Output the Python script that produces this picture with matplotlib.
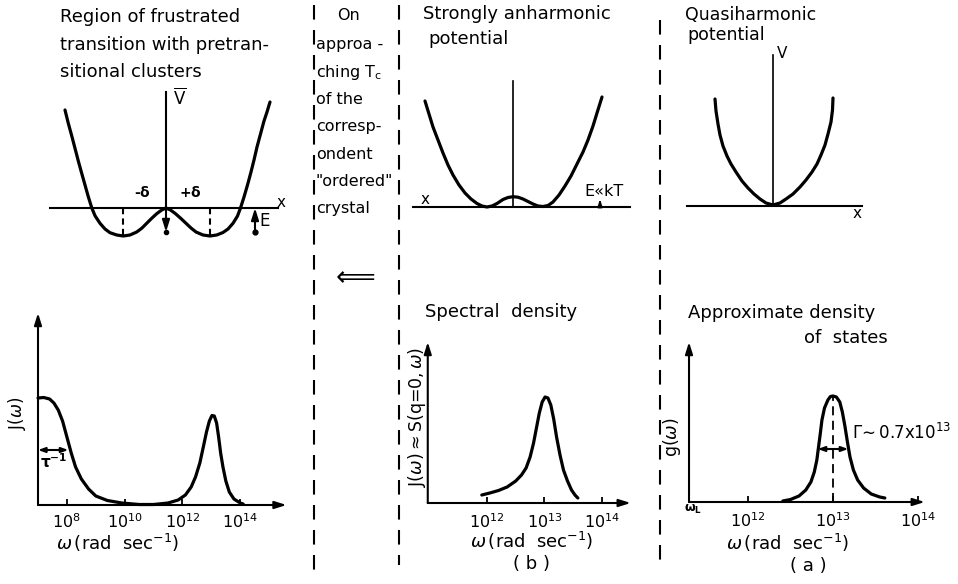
import numpy as np
import matplotlib
matplotlib.use('Agg')
import matplotlib.pyplot as plt

W, H = 958, 584

# --- potentials (x, V, px about the origin) ---
frus_x = [-101, -97.7, -94.3, -91, -87.7, -84.3, -81, -77.7, -74.3, -71, -66, -61,
          -56, -49.3, -42.7, -36, -29.3, -24.3, -19.3, -14.3, -9.3, -4.3, 0,
          4.5, 9.5, 14.7, 19.7, 25, 30, 37, 44, 50.7, 57, 62, 67, 71.5, 74.5,
          78, 81.5, 85, 88, 91, 94.5, 98, 101, 104]
frus_v = [98, 84.7, 72.3, 59.7, 47, 34.7, 23, 11.3, 0.3, -7.7, -15.3, -21,
          -24.7, -27, -28, -27, -24, -20.3, -15.3, -10.3, -5.7, -2, 0,
          -2, -5.7, -10.3, -15, -20, -24, -27, -28, -27, -24.5, -21, -15.3, -8, 0,
          11, 23, 36, 48, 61, 74, 87, 96, 106]

anh_x = [-88, -84, -80, -75, -70, -65, -60, -54, -48, -42, -36, -31, -26, -21,
         -16, -10, -5, 0, 5, 10, 15, 20, 25, 30, 35, 40, 46, 52, 58, 64, 70,
         75, 80, 84, 89]
anh_v = [106, 93, 80, 67, 54, 42, 32, 22, 14, 8, 3.5, 1, 0, 1,
         3.5, 7.5, 9.5, 10.3, 9.8, 8, 5.5, 3, 1, 0.5, 1.5, 5, 12, 21, 31, 43, 55,
         67, 81, 94, 110]

qh_x = [-58, -57, -55, -53, -50, -46, -42, -37, -31, -25, -19, -13, -7, 0,
        7, 13, 20, 27, 33, 39, 44, 48, 52, 55, 58, 59.5, 60]
qh_v = [107, 95, 82, 71, 60, 50, 42, 34, 25, 18, 12, 7, 3, 1,
        3, 7, 12, 19, 26, 34, 42, 51, 61, 72, 84, 96, 108]

# --- spectra (log10 omega, height) ---
lf_lw = [7.0, 7.2, 7.4, 7.55, 7.7, 7.85, 8.0, 8.15, 8.3, 8.5, 8.75, 9.0, 9.4,
         9.9, 10.5, 11.0, 11.5, 11.85, 12.1, 12.3, 12.45, 12.6, 12.72, 12.83,
         12.93, 13.02, 13.1, 13.18, 13.25, 13.32, 13.4, 13.5, 13.62, 13.78,
         14.0, 14.1]
lf_j = [107, 107.5, 106, 102, 95, 84, 68, 52, 38, 26, 16, 9, 4.5,
        2, 0.5, 0.5, 2, 5, 10, 18, 28, 42, 58, 73,
        84, 89.5, 89, 82, 68, 52, 38, 24, 13, 6,
        2, 1]

sd_lw = [11.91, 12.05, 12.2, 12.35, 12.5, 12.6, 12.68, 12.75, 12.81, 12.86,
         12.91, 12.96, 13.01, 13.06, 13.11, 13.16, 13.21, 13.27, 13.33, 13.4,
         13.47, 13.53, 13.58]
sd_j = [8, 10, 12.5, 16, 22, 28, 35, 46, 60, 75,
        90, 101, 106, 105, 98, 84, 66, 48, 33, 22,
        13, 8, 5]

ds_lw = [12.41, 12.5, 12.6, 12.68, 12.74, 12.78, 12.81, 12.83, 12.85, 12.87,
         12.9, 12.94, 12.97, 13.0, 13.04, 13.08, 13.11, 13.14, 13.17, 13.2,
         13.24, 13.29, 13.36, 13.45, 13.55, 13.61]
ds_g = [1, 2.5, 6, 12, 20, 30, 42, 55, 68, 82,
        94, 102, 105.5, 106, 105, 100, 90, 76, 60, 45,
        32, 22, 14, 8, 5, 4]

ticks_a = [8, 10, 12, 14]
ticks_b = [12, 13, 14]
ticks_c = [12, 13, 14]

plt.rcParams['font.family'] = 'DejaVu Sans'
plt.rcParams['mathtext.fontset'] = 'dejavusans'

fig = plt.figure(figsize=(W / 100, H / 100), dpi=100)
fig.patch.set_facecolor('white')

ax0 = fig.add_axes([0, 0, 1, 1])
ax0.set_xlim(0, W)
ax0.set_ylim(H, 0)
ax0.axis('off')


def add_panel(px0, px1, py0, py1, xlim, ylim):
    ax = fig.add_axes([px0 / W, 1 - py1 / H, (px1 - px0) / W, (py1 - py0) / H])
    ax.set_xlim(xlim)
    ax.set_ylim(ylim)
    ax.axis('off')
    return ax


def arrow(ax, start, end, lw=1.5, scale=10):
    ax.annotate('', xy=end, xytext=start,
                arrowprops=dict(arrowstyle='-|>,head_length=0.7,head_width=0.22',
                                lw=lw, color='k', shrinkA=0, shrinkB=0,
                                mutation_scale=scale))


def width_arrow(ax, x0, x1, y):
    ax.annotate('', xy=(x0, y), xytext=(x1, y),
                arrowprops=dict(arrowstyle='<|-|>,head_length=0.5,head_width=0.18',
                                lw=1.5, color='k', shrinkA=0, shrinkB=0,
                                mutation_scale=8))


CURVE = dict(color='k', lw=2.3, solid_capstyle='round', solid_joinstyle='round')
AX = dict(color='k', lw=1.5)

# ---- separators ----
ax0.plot([314, 314], [5, 578], ls=(0, (7, 5)), **AX)
ax0.plot([399, 399], [5, 565], ls=(0, (7, 5)), **AX)
ax0.plot([660, 660], [20, 562], ls=(0, (7, 5)), **AX)

# ---- texts ----
tf = 13
for y, s in zip([17, 45, 72], ['Region of frustrated', 'transition with pretran-',
                              'sitional clusters']):
    ax0.text(60, y, s, fontsize=tf, va='center', ha='left')

ax0.text(349, 15, 'On', fontsize=11.5, va='center', ha='center')
col = ['approa -', r'ching T$_\mathregular{c}$', 'of the', 'corresp-', 'ondent',
       '"ordered"', 'crystal']
for i, s in enumerate(col):
    ax0.text(316, 45 + 27.3 * i, s, fontsize=11.5, va='center', ha='left')
ax0.text(356, 278, '\u27f8', fontsize=20, va='center', ha='center')

ax0.text(423, 14, 'Strongly anharmonic', fontsize=tf, va='center')
ax0.text(428, 39, 'potential', fontsize=tf, va='center')
ax0.text(685, 15, 'Quasiharmonic', fontsize=12.5, va='center')
ax0.text(687, 35, 'potential', fontsize=12.5, va='center')

ax0.text(425, 312, 'Spectral  density', fontsize=tf, va='center')
ax0.text(688, 313, 'Approximate density', fontsize=tf, va='center')
ax0.text(888, 338, 'of  states', fontsize=tf, va='center', ha='right')

wl = r'$\omega\,$(rad  sec$^{\mathregular{-1}}$)'
ax0.text(118, 543, wl, fontsize=13, va='center', ha='center')
ax0.text(532, 541, wl, fontsize=13, va='center', ha='center')
ax0.text(788, 543, wl, fontsize=13, va='center', ha='center')
ax0.text(532, 564, '( b )', fontsize=13, va='center', ha='center')
ax0.text(808, 566, '( a )', fontsize=13, va='center', ha='center')

# ---- panel 1: frustrated double well ----
p1 = add_panel(40, 290, 85, 245, (-126, 124), (-37, 123))
p1.plot([-116, 112], [0, 0], **AX)
p1.plot([0, 0], [116, 0], **AX)
arrow(p1, (0, 0), (0, -24))
p1.plot([-43, -43], [0, -28], ls=(0, (3, 2)), **AX)
p1.plot([44, 44], [0, -28], ls=(0, (3, 2)), **AX)
p1.plot(frus_x, frus_v, **CURVE)
arrow(p1, (89, -24), (89, 0))
p1.plot([89], [-24], 'o', color='k', ms=3.5)
p1.plot([0], [-24], 'o', color='k', ms=3)
p1.text(7, 110, r'$\mathregular{\overline{V}}$', fontsize=12, va='center')
p1.text(111, 6, 'x', fontsize=11, va='center')
p1.text(-24, 16, r'-$\mathbf{\delta}$', fontsize=10, va='center', ha='center',
        fontweight='bold')
p1.text(24, 16, r'+$\mathbf{\delta}$', fontsize=10, va='center', ha='center',
        fontweight='bold')
p1.text(93, -13, 'E', fontsize=12, va='center')

# ---- panel 2: strongly anharmonic ----
p2 = add_panel(405, 640, 70, 215, (-108, 127), (-8, 137))
p2.plot([-100, 117], [0, 0], **AX)
p2.plot([0, 0], [0, 126], color='k', lw=1.2)
p2.plot(anh_x, anh_v, **CURVE)
arrow(p2, (87, 0), (87, 8), lw=1.2, scale=6)
p2.text(-88, 8, 'x', fontsize=11, va='center', ha='center')
p2.text(91, 15, 'E\u00abkT', fontsize=11.5, va='center', ha='center')

# ---- panel 3: quasiharmonic ----
p3 = add_panel(680, 870, 45, 220, (-93, 97), (-14, 161))
p3.plot([-86, 89], [0, 0], **AX)
p3.plot([0, 0], [0, 151], color='k', lw=1.2)
p3.plot(qh_x, qh_v, **CURVE)
p3.text(9, 153, 'V', fontsize=11, va='center', ha='center')
p3.text(84, -8, 'x', fontsize=11, va='center', ha='center')

# ---- panel 4: J(omega), frustrated ----
p4 = add_panel(25, 300, 300, 515, (6.55, 16.066), (-10, 205))
arrow(p4, (7.0, 0), (15.6, 0))
arrow(p4, (7.0, 0), (7.0, 192))
p4.vlines(ticks_a, 0, 6, color='k', lw=1.3)
p4.plot(lf_lw, lf_j, **CURVE)
for t in ticks_a:
    p4.text(t, -17, r'$\mathregular{10^{%d}}$' % t, fontsize=11.5, ha='center',
            va='center')
width_arrow(p4, 7.0, 8.05, 55)
p4.text(7.55, 43, r'$\mathbf{\tau^{-1}}$', fontsize=11, ha='center', va='center')
p4.text(6.28, 92, r'J($\omega$)', fontsize=12, rotation=90, ha='center',
        va='center')

# ---- panel b: spectral density ----
pb = add_panel(420, 640, 330, 515, (10.835, 14.661), (-12, 173))
arrow(pb, (10.97, 0), (14.5, 0))
arrow(pb, (10.97, 0), (10.97, 161))
pb.vlines(ticks_b, 0, 6, color='k', lw=1.3)
pb.plot(sd_lw, sd_j, **CURVE)
for t in ticks_b:
    pb.text(t, -19, r'$\mathregular{10^{%d}}$' % t, fontsize=11.5, ha='center',
            va='center')
pb.text(10.78, 86, r'J($\omega$)$\approx$S(q=0,$\,\omega$)', fontsize=12.5,
        rotation=90, ha='center', va='center')

# ---- panel a: density of states ----
pa = add_panel(680, 940, 330, 515, (11.2, 14.259), (-13, 172))
arrow(pa, (11.306, 0), (14.08, 0))
arrow(pa, (11.306, 0), (11.306, 160))
pa.vlines(ticks_c, 0, 6, color='k', lw=1.3)
pa.plot(ds_lw, ds_g, **CURVE)
pa.plot([13.0, 13.0], [0, 106], ls=(0, (5, 3)), color='k', lw=1.3)
width_arrow(pa, 12.82, 13.18, 53)
for t in ticks_c:
    pa.text(t, -19, r'$\mathregular{10^{%d}}$' % t, fontsize=11.5, ha='center',
            va='center')
pa.text(11.36, -7, r'$\mathbf{\omega_L}$', fontsize=9, ha='center', va='center')
pa.text(13.22, 69, r'$\Gamma\!\sim$0.7x10$^{\mathregular{13}}$', fontsize=12,
        ha='left', va='center')
pa.text(11.11, 65, r'g($\omega$)', fontsize=12.5, rotation=90, ha='center',
        va='center')

fig.savefig('out.png', dpi=100, facecolor='white')
